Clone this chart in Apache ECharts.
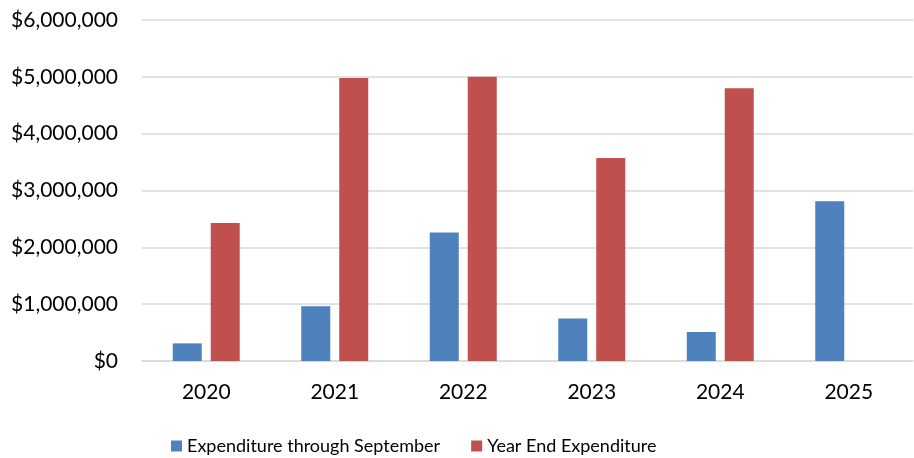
<!DOCTYPE html>
<html>
<head>
<meta charset="utf-8">
<script src="https://cdn.jsdelivr.net/npm/echarts@6/dist/echarts.min.js"></script>
<style>
  html, body { margin: 0; padding: 0; background: #fff; }
  #chart { width: 914px; height: 458px; }
</style>
</head>
<body>
<div id="chart"></div>
<script>
// values
const years = ['2020', '2021', '2022', '2023', '2024', '2025'];
const throughSeptember = [310000, 965000, 2260000, 750000, 510000, 2810000];
const yearEnd = [2430000, 4980000, 5000000, 3570000, 4800000, null];
const seriesNames = ['Expenditure through September', 'Year End Expenditure'];

const font = 'Lato, "Open Sans", sans-serif';

let chart = echarts.init(document.getElementById('chart'));

function money(v){
    return '$' + v.toLocaleString('en-US');
}

chart.setOption({
    animation: false,
    grid: { left: 142, right: 1, top: 20, bottom: 97 },
    legend: {
        data: seriesNames,
        top: 432,
        left: 166,
        itemWidth: 11,
        itemHeight: 11,
        itemGap: 31,
        icon: 'rect',
        textStyle: { fontFamily: font, fontSize: 18, color: '#000' }
    },
    xAxis: {
        type: 'category',
        data: years,
        axisLine: { lineStyle: { color: '#d9d9d9', width: 1.5 } },
        axisTick: { show: false },
        axisLabel: { fontFamily: font, fontSize: 21, color: '#000', margin: 21 }
    },
    yAxis: {
        type: 'value',
        min: 0,
        max: 6000000,
        interval: 1000000,
        axisLine: { show: false },
        axisTick: { show: false },
        splitLine: { lineStyle: { color: '#d9d9d9', width: 1.5 } },
        axisLabel: { fontFamily: font, fontSize: 21, color: '#000', margin: 24, formatter: money }
    },
    series: [
        {
            name: seriesNames[0],
            type: 'bar',
            data: throughSeptember,
            barWidth: 29,
            barGap: '31%',
            itemStyle: { color: '#4f81bd' }
        },
        {
            name: seriesNames[1],
            type: 'bar',
            data: yearEnd,
            barWidth: 29,
            itemStyle: { color: '#c0504d' }
        }
    ]
});
</script>
</body>
</html>
